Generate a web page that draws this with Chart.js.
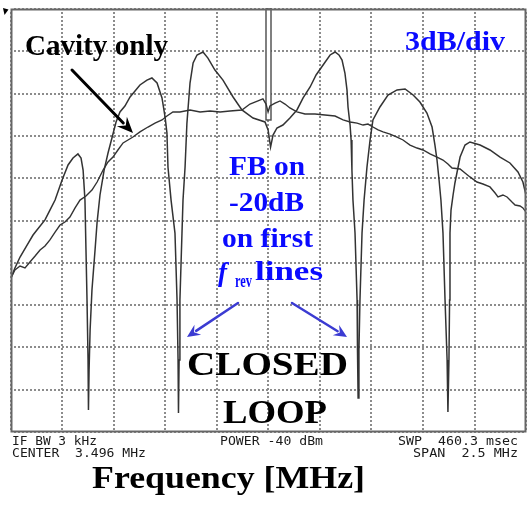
<!DOCTYPE html>
<html>
<head>
<meta charset="utf-8">
<script src="https://cdn.jsdelivr.net/npm/chart.js@4/dist/chart.umd.min.js"></script>
<style>
html,body{margin:0;padding:0;background:#fff;}
#wrap{width:529px;height:505px;position:relative;}
</style>
</head>
<body>
<div id="wrap"><canvas id="c" width="529" height="505"></canvas></div>
<script>
// Spectrum analyser: centre 3.496 MHz, span 2.5 MHz, 3 dB/div
const gridFreq = [2.246, 2.496, 2.746, 2.996, 3.246, 3.496, 3.746, 3.996, 4.246, 4.496, 4.746];
const gridLevel = [-30, -27, -24, -21, -18, -15, -12, -9, -6, -3, 0];
const centerFreq = 3.496;

// Closed loop (FB on) trace: frequency [MHz], level [dB]
const fbFreq = [2.246,2.265,2.290,2.324,2.353,2.372,2.411,2.435,2.460,2.494,2.523,2.547,2.571,2.586,2.596,2.605,2.610,2.615,2.620,2.622,2.625,2.630,2.639,2.654,2.664,2.678,2.698,2.717,2.736,2.756,2.775,2.799,2.824,2.872,2.906,2.930,2.955,2.979,2.994,3.003,3.008,3.023,3.042,3.052,3.057,3.059,3.062,3.066,3.076,3.081,3.091,3.100,3.115,3.130,3.149,3.178,3.202,3.236,3.275,3.324,3.367,3.421,3.479,3.494,3.506,3.518,3.537,3.566,3.600,3.634,3.664,3.698,3.727,3.761,3.795,3.819,3.838,3.853,3.867,3.877,3.882,3.892,3.897,3.901,3.906,3.916,3.926,3.928,3.931,3.935,3.940,3.950,3.960,3.974,3.989,4.003,4.037,4.076,4.120,4.159,4.198,4.231,4.265,4.290,4.304,4.314,4.324,4.333,4.343,4.353,4.363,4.367,4.372,4.375,4.377,4.382,4.392,4.401,4.426,4.450,4.474,4.523,4.571,4.620,4.668,4.707,4.731,4.746];
const fbLevel = [-19.08,-18.37,-17.59,-16.74,-16.03,-15.67,-14.96,-14.26,-13.55,-12.13,-11.06,-10.57,-10.28,-10.57,-11.42,-13.55,-17.09,-20.64,-24.89,-28.44,-25.60,-22.77,-19.93,-17.09,-15.11,-13.19,-11.42,-10.21,-9.15,-8.01,-7.30,-6.88,-6.24,-5.39,-5.04,-4.89,-5.25,-6.31,-7.66,-8.79,-11.21,-13.55,-15.89,-20.64,-24.89,-28.65,-24.89,-20.64,-15.89,-13.55,-11.21,-8.09,-5.25,-3.83,-3.26,-3.05,-3.48,-4.33,-5.04,-6.24,-7.16,-7.73,-8.01,-8.58,-9.79,-8.94,-8.44,-8.23,-7.73,-7.16,-6.31,-5.53,-4.68,-3.97,-3.26,-3.05,-3.26,-3.62,-4.54,-5.74,-6.95,-8.23,-9.29,-11.42,-13.55,-15.89,-20.64,-24.18,-27.59,-24.18,-20.64,-15.89,-13.55,-11.21,-9.29,-7.87,-6.95,-6.10,-5.74,-5.67,-6.10,-6.60,-7.38,-8.37,-9.65,-10.71,-12.13,-13.55,-15.89,-20.64,-24.89,-28.58,-24.89,-20.64,-15.89,-14.26,-13.19,-12.34,-10.50,-9.65,-9.43,-9.65,-10.00,-10.50,-10.92,-11.56,-12.27,-13.19];

// Cavity only trace
const cavFreq = [2.246,2.265,2.290,2.314,2.338,2.363,2.387,2.411,2.435,2.460,2.484,2.508,2.532,2.557,2.581,2.610,2.639,2.664,2.693,2.717,2.741,2.765,2.790,2.814,2.838,2.872,2.911,2.945,2.979,3.003,3.032,3.066,3.115,3.164,3.212,3.261,3.309,3.367,3.406,3.445,3.469,3.484,3.494,3.503,3.528,3.552,3.576,3.600,3.634,3.673,3.722,3.770,3.819,3.858,3.892,3.926,3.955,3.979,4.003,4.028,4.052,4.086,4.120,4.149,4.183,4.217,4.246,4.280,4.314,4.343,4.367,4.387,4.426,4.450,4.474,4.508,4.537,4.571,4.596,4.610,4.634,4.654,4.678,4.693,4.717,4.731,4.746];
const cavLevel = [-19.08,-18.51,-18.23,-18.37,-17.94,-17.52,-17.09,-16.81,-16.38,-15.82,-15.32,-15.11,-14.75,-14.11,-13.55,-13.26,-12.84,-12.27,-11.42,-10.85,-10.50,-10.00,-9.50,-9.29,-9.08,-8.72,-8.37,-8.09,-7.87,-7.59,-7.30,-7.30,-7.16,-7.30,-7.23,-7.30,-7.23,-7.16,-6.74,-6.52,-6.38,-6.74,-7.30,-6.88,-6.67,-6.52,-6.74,-7.02,-7.30,-7.45,-7.45,-7.52,-7.59,-7.87,-8.01,-8.09,-8.23,-8.16,-8.37,-8.58,-8.72,-8.87,-9.08,-9.29,-9.65,-9.86,-10.00,-10.28,-10.50,-10.71,-10.99,-11.28,-11.35,-11.63,-11.91,-12.27,-12.41,-12.62,-13.05,-13.33,-13.19,-13.33,-13.69,-13.90,-13.97,-14.11,-14.40];

const toPoints = (xs, ys) => xs.map((x, i) => ({x: x, y: ys[i]}));

const SERIF = '"Liberation Serif", "Times New Roman", serif';
const MONO = '"DejaVu Sans Mono", "Liberation Mono", monospace';
const BLUE = '#0a0aff';
const ARROW_BLUE = '#3b3bd2';

function fitText(ctx, str, x0, x1, baseline, font, color) {
  ctx.save();
  ctx.font = font;
  ctx.fillStyle = color;
  ctx.textBaseline = 'alphabetic';
  ctx.textAlign = 'left';
  const w = ctx.measureText(str).width;
  ctx.translate(x0, baseline);
  ctx.scale((x1 - x0) / w, 1);
  ctx.fillText(str, 0, 0);
  ctx.restore();
}

function arrow(ctx, x0, y0, x1, y1, color, lw, headLen, headW) {
  const ang = Math.atan2(y1 - y0, x1 - x0);
  const bx = x1 - headLen * Math.cos(ang), by = y1 - headLen * Math.sin(ang);
  ctx.save();
  ctx.strokeStyle = color; ctx.fillStyle = color; ctx.lineWidth = lw;
  ctx.lineCap = 'round';
  ctx.beginPath(); ctx.moveTo(x0, y0); ctx.lineTo(bx + 2*Math.cos(ang), by + 2*Math.sin(ang)); ctx.stroke();
  ctx.beginPath();
  ctx.moveTo(x1, y1);
  ctx.lineTo(bx + headW * Math.sin(ang), by - headW * Math.cos(ang));
  ctx.lineTo(bx + 0.35*headLen*Math.cos(ang), by + 0.35*headLen*Math.sin(ang));
  ctx.lineTo(bx - headW * Math.sin(ang), by + headW * Math.cos(ang));
  ctx.closePath(); ctx.fill();
  ctx.restore();
}

const decor = {
  id: 'decor',
  beforeDatasetsDraw(chart) {
    const ctx = chart.ctx, a = chart.chartArea;
    const sx = chart.scales.x, sy = chart.scales.y;
    // dotted graticule
    ctx.save();
    ctx.fillStyle = '#8c8c8c';
    gridFreq.forEach(f => {
      const px = Math.round(sx.getPixelForValue(f)) - 1;
      for (let y = Math.round(a.top) + 3; y < a.bottom - 2; y += 4) ctx.fillRect(px, y, 2, 2);
    });
    gridLevel.forEach(v => {
      const py = Math.round(sy.getPixelForValue(v)) - 1;
      for (let x = Math.round(a.left) + 3; x < a.right - 2; x += 4) ctx.fillRect(x, py, 2, 2);
    });
    ctx.restore();
    // centre marker
    const xc = sx.getPixelForValue(centerFreq);
    ctx.save();
    ctx.fillStyle = '#fff';
    ctx.strokeStyle = '#4a4a4a';
    ctx.lineWidth = 1.4;
    ctx.fillRect(xc - 2.5, a.top, 5, 111);
    ctx.strokeRect(xc - 2.5, a.top, 5, 111);
    ctx.restore();
  },
  afterDraw(chart) {
    const ctx = chart.ctx, a = chart.chartArea;
    // frame
    ctx.save();
    ctx.strokeStyle = '#666';
    ctx.lineWidth = 2;
    ctx.strokeRect(a.left + 0.5, a.top + 0.5, a.right - a.left - 1, a.bottom - a.top - 1);
    // reference marker
    ctx.fillStyle = '#000';
    ctx.beginPath(); ctx.moveTo(3, 8); ctx.lineTo(8.5, 9.5); ctx.lineTo(4.5, 15); ctx.closePath(); ctx.fill();
    ctx.restore();

    // annotations
    fitText(ctx, 'Cavity only', 25, 168, 55, 'bold 30px ' + SERIF, '#000');
    arrow(ctx, 72, 70, 133, 133, '#000', 3, 16, 7);
    fitText(ctx, '3dB/div', 405, 505, 50, 'bold 27px ' + SERIF, BLUE);

    fitText(ctx, 'FB on', 229, 305, 175, 'bold 27px ' + SERIF, BLUE);
    fitText(ctx, '-20dB', 229, 304, 211, 'bold 27px ' + SERIF, BLUE);
    fitText(ctx, 'on first', 222, 313, 247, 'bold 27px ' + SERIF, BLUE);
    ctx.save();
    ctx.font = 'italic bold 27px ' + SERIF;
    ctx.fillStyle = BLUE;
    ctx.textBaseline = 'alphabetic';
    ctx.fillText('f', 218, 281);
    ctx.restore();
    fitText(ctx, 'rev', 235, 252, 287, 'bold 18px ' + SERIF, BLUE);
    fitText(ctx, 'lines', 255, 323, 280, 'bold 27px ' + SERIF, BLUE);

    arrow(ctx, 238, 303, 187, 337, ARROW_BLUE, 2.5, 13, 6);
    arrow(ctx, 292, 303, 347, 337, ARROW_BLUE, 2.5, 13, 6);

    fitText(ctx, 'CLOSED', 187, 348, 375, 'bold 33px ' + SERIF, '#000');
    fitText(ctx, 'LOOP', 223, 327, 423, 'bold 33px ' + SERIF, '#000');

    // instrument annotation
    const mf = '12px ' + MONO, mc = '#1a1a1a';
    fitText(ctx, 'IF BW 3 kHz', 12, 97, 444.5, mf, mc);
    fitText(ctx, 'CENTER  3.496 MHz', 12, 146, 457, mf, mc);
    fitText(ctx, 'POWER -40 dBm', 220, 323, 444.5, mf, mc);
    fitText(ctx, 'SWP  460.3 msec', 398, 518, 444.5, mf, mc);
    fitText(ctx, 'SPAN  2.5 MHz', 413, 518, 457, mf, mc);

    fitText(ctx, 'Frequency [MHz]', 92, 365, 488, 'bold 32px ' + SERIF, '#000');
  }
};

new Chart(document.getElementById('c'), {
  type: 'line',
  data: {
    datasets: [
      { label: 'FB on (closed loop)', data: toPoints(fbFreq, fbLevel), borderColor: '#333', borderWidth: 1.5, pointRadius: 0, tension: 0, fill: false },
      { label: 'Cavity only', data: toPoints(cavFreq, cavLevel), borderColor: '#333', borderWidth: 1.4, pointRadius: 0, tension: 0, fill: false }
    ]
  },
  options: {
    responsive: false,
    animation: false,
    events: [],
    layout: { padding: { left: 11, top: 9, right: 3, bottom: 73 } },
    plugins: { legend: { display: false }, tooltip: { enabled: false }, title: { display: false } },
    scales: {
      x: {
        type: 'linear',
        min: gridFreq[0], max: gridFreq[gridFreq.length - 1],
        afterBuildTicks: (scale) => { scale.ticks = gridFreq.map(v => ({ value: v })); },
        ticks: { display: false },
        grid: { display: false, drawTicks: false },
        border: { display: false }
      },
      y: {
        type: 'linear',
        min: gridLevel[0], max: gridLevel[gridLevel.length - 1],
        afterBuildTicks: (scale) => { scale.ticks = gridLevel.map(v => ({ value: v })); },
        ticks: { display: false },
        grid: { display: false, drawTicks: false },
        border: { display: false }
      }
    }
  },
  plugins: [decor]
});
</script>
</body>
</html>
